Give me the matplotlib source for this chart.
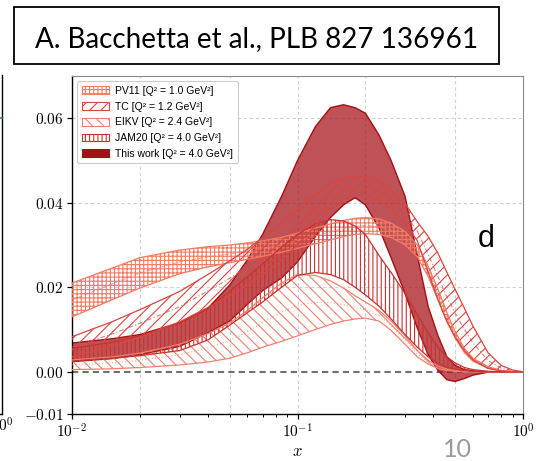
import matplotlib
matplotlib.use("Agg")
import matplotlib.pyplot as plt
from matplotlib.patches import Patch, Rectangle
from matplotlib.lines import Line2D
from matplotlib.ticker import FixedLocator, FuncFormatter, LogLocator, NullFormatter
import numpy as np

plt.rcParams["mathtext.fontset"] = "cm"
plt.rcParams["hatch.linewidth"] = 0.8

# x grid shared by all bands
x = [0.01, 0.015, 0.02, 0.03, 0.04, 0.05, 0.06, 0.07, 0.085, 0.1, 0.12, 0.14,
     0.16, 0.18, 0.2, 0.23, 0.26, 0.3, 0.34, 0.38, 0.42, 0.46, 0.5, 0.55, 0.6,
     0.7, 0.8, 0.9, 1.0]

# PV11 [Q^2 = 1.0 GeV^2]
pv11_lo = [0.0130, 0.0170, 0.0198, 0.0232, 0.0248, 0.0258, 0.0266, 0.0273, 0.0283,
           0.0292, 0.0303, 0.0312, 0.0320, 0.0325, 0.0327, 0.0325, 0.0318, 0.0300,
           0.0272, 0.0225, 0.0170, 0.0120, 0.0080, 0.0045, 0.0025, 0.0008, 0.0002,
           0.0, 0.0]
pv11_hi = [0.0210, 0.0245, 0.0270, 0.0288, 0.0296, 0.0300, 0.0305, 0.0310, 0.0318,
           0.0328, 0.0340, 0.0350, 0.0358, 0.0363, 0.0365, 0.0362, 0.0352, 0.0332,
           0.0300, 0.0250, 0.0195, 0.0140, 0.0095, 0.0055, 0.0032, 0.0012, 0.0003,
           0.0, 0.0]

# TC [Q^2 = 1.2 GeV^2]
tc_lo = [0.0035, 0.0060, 0.0082, 0.0118, 0.0152, 0.0180, 0.0205, 0.0230, 0.0265,
         0.0300, 0.0345, 0.0385, 0.0408, 0.0418, 0.0418, 0.0405, 0.0385, 0.0350,
         0.0310, 0.0235, 0.0170, 0.0118, 0.0082, 0.0050, 0.0028, 0.0008, 0.0002,
         0.0, 0.0]
tc_hi = [0.0083, 0.0118, 0.0147, 0.0190, 0.0230, 0.0262, 0.0290, 0.0318, 0.0352,
         0.0385, 0.0420, 0.0445, 0.0458, 0.0463, 0.0462, 0.0452, 0.0430, 0.0398,
         0.0355, 0.0320, 0.0280, 0.0235, 0.0195, 0.0150, 0.0108, 0.0045, 0.0015,
         0.0004, 0.0]

# EIKV [Q^2 = 2.4 GeV^2]
eikv_lo = [0.0005, 0.0007, 0.0010, 0.0016, 0.0023, 0.0032, 0.0045, 0.0058, 0.0072,
           0.0085, 0.0100, 0.0112, 0.0120, 0.0125, 0.0127, 0.0120, 0.0098, 0.0065,
           0.0035, 0.0018, 0.0008, 0.0003, 0.0001, 0.0, 0.0, 0.0, 0.0, 0.0, 0.0]
eikv_hi = [0.0028, 0.0035, 0.0044, 0.0065, 0.0090, 0.0115, 0.0145, 0.0175, 0.0210,
           0.0230, 0.0228, 0.0215, 0.0198, 0.0180, 0.0165, 0.0145, 0.0120, 0.0085,
           0.0050, 0.0027, 0.0013, 0.0006, 0.0003, 0.0, 0.0, 0.0, 0.0, 0.0, 0.0]

# JAM20 [Q^2 = 4.0 GeV^2]
jam_lo = [0.0025, 0.0032, 0.0038, 0.0050, 0.0075, 0.0110, 0.0140, 0.0165, 0.0200,
          0.0228, 0.0235, 0.0230, 0.0218, 0.0200, 0.0182, 0.0155, 0.0125, 0.0088,
          0.0058, 0.0035, 0.0020, 0.0011, 0.0006, 0.0003, 0.0001, 0.0, 0.0, 0.0, 0.0]
jam_hi = [0.0055, 0.0070, 0.0085, 0.0115, 0.0150, 0.0190, 0.0225, 0.0255, 0.0295,
          0.0325, 0.0350, 0.0360, 0.0357, 0.0345, 0.0325, 0.0275, 0.0235, 0.0185,
          0.0135, 0.0092, 0.0058, 0.0035, 0.0021, 0.0010, 0.0005, 0.0001, 0.0, 0.0, 0.0]

# This work [Q^2 = 4.0 GeV^2]
tw_lo = [0.0024, 0.0031, 0.0040, 0.0060, 0.0092, 0.0120, 0.0160, 0.0192, 0.0222,
         0.0260, 0.0320, 0.0365, 0.0395, 0.0412, 0.0395, 0.0340, 0.0270, 0.0185,
         0.0103, 0.0040, 0.0003, -0.0019, -0.0023, -0.0016, -0.0008, -0.0001, 0.0,
         0.0, 0.0]
tw_hi = [0.0068, 0.0078, 0.0088, 0.0116, 0.0150, 0.0205, 0.0265, 0.0325, 0.0415,
         0.0500, 0.0580, 0.0625, 0.0632, 0.0625, 0.0612, 0.0560, 0.0500, 0.0415,
         0.0275, 0.0154, 0.0085, 0.0035, 0.0015, 0.0005, 0.0002, 0.0, 0.0, 0.0, 0.0]

labels = ["PV11 [Q² = 1.0 GeV²]", "TC [Q² = 1.2 GeV²]", "EIKV [Q² = 2.4 GeV²]",
          "JAM20 [Q² = 4.0 GeV²]", "This work [Q² = 4.0 GeV²]"]

y_ticks = [-0.01, 0.0, 0.02, 0.04, 0.06]
x_ticks = [0.01, 0.1, 1.0]
x_tick_labels = [r"$10^{-2}$", r"$10^{-1}$", r"$10^{0}$"]
x_grid = [0.02, 0.05, 0.1, 0.2, 0.5]
y_grid = [0.02, 0.04, 0.06]

W, H = 542, 461
fig = plt.figure(figsize=(W / 100, H / 100), dpi=100)


def fx(p):
    return p / W


def fy(p):
    return 1 - p / H


ax = fig.add_axes([fx(72), fy(414), fx(523) - fx(72), fy(76) - fy(414)])
ax.set_xscale("log")
ax.set_xlim(0.01, 1.0)
ax.set_ylim(-0.01, 0.07)

for g in x_grid:
    ax.axvline(g, color="#d0d0d0", lw=0.8, ls=(0, (3, 2.5)), zorder=0)
for g in y_grid:
    ax.axhline(g, color="#d0d0d0", lw=0.8, ls=(0, (3, 2.5)), zorder=0)
ax.axhline(0.0, color="#707070", lw=1.5, ls=(0, (3, 2)), zorder=1)

c_pv = "#f47a62"
c_tc = "#da4640"
c_ei = "#f0806e"
c_jam = "#c8322f"
c_tw = "#a50f15"

# This work: solid filled band
ax.fill_between(x, tw_lo, tw_hi, facecolor=c_tw, alpha=0.72, edgecolor="none", zorder=2)
ax.plot(x, tw_lo, color=c_tw, lw=1.0, zorder=2.1)
ax.plot(x, tw_hi, color=c_tw, lw=1.0, zorder=2.1)

# literature extractions: hatched bands with central curves
bands = [
    (pv11_lo, pv11_hi, c_pv, "++++", (0, (4, 2))),
    (eikv_lo, eikv_hi, c_ei, "\\\\\\", (0, (1, 2))),
    (jam_lo, jam_hi, c_jam, "||||", None),
    (tc_lo, tc_hi, c_tc, "///", (0, (4, 2, 1, 2))),
]
for lo, hi, col, hatch, cls in bands:
    ax.fill_between(x, lo, hi, facecolor="none", edgecolor=col, hatch=hatch,
                    linewidth=0.0, zorder=3)
    ax.plot(x, lo, color=col, lw=0.9, zorder=3.2)
    ax.plot(x, hi, color=col, lw=0.9, zorder=3.2)
    if cls is not None:
        mid = [(a + b) / 2 for a, b in zip(lo, hi)]
        ax.plot(x, mid, color=col, lw=0.8, ls=cls, alpha=0.7, zorder=3.1)

# axes styling
for s in ["left", "bottom"]:
    ax.spines[s].set_color("black")
    ax.spines[s].set_linewidth(1.0)
for s in ["top", "right"]:
    ax.spines[s].set_color("#8a8a8a")
    ax.spines[s].set_linewidth(0.8)

ax.xaxis.set_major_locator(FixedLocator(x_ticks))
ax.set_xticklabels(x_tick_labels)
ax.xaxis.set_minor_locator(LogLocator(base=10, subs=np.arange(2, 10)))
ax.xaxis.set_minor_formatter(NullFormatter())
ax.yaxis.set_major_locator(FixedLocator(y_ticks))
ax.yaxis.set_major_formatter(FuncFormatter(lambda v, p: f"${v:.2f}$"))
ax.tick_params(axis="both", which="major", direction="out", length=3.5, width=0.9,
               labelsize=11, pad=2.5, colors="black")
ax.tick_params(axis="x", which="minor", direction="out", length=2.0, width=0.7)
ax.set_xlabel(r"$x$", fontsize=12, labelpad=1)

handles = [
    Patch(facecolor="white", edgecolor=c_pv, hatch="++++", lw=0.8),
    Patch(facecolor="white", edgecolor=c_tc, hatch="///", lw=0.8),
    Patch(facecolor="white", edgecolor=c_ei, hatch="\\\\\\", lw=0.8),
    Patch(facecolor="white", edgecolor=c_jam, hatch="||||", lw=0.8),
    Patch(facecolor=c_tw, edgecolor=c_tw, lw=0.8),
]
leg = ax.legend(handles, labels, loc="upper left",
                prop={"family": "Liberation Sans", "size": 7.5},
                handlelength=2.6, handleheight=0.75, labelspacing=0.55, borderpad=0.45,
                handletextpad=0.6, borderaxespad=0.5, fancybox=True, framealpha=1.0,
                edgecolor="#cccccc")
leg.get_frame().set_linewidth(0.8)
leg.set_zorder(10)

# panel letter
fig.text(fx(486), fy(247), "d", fontsize=22, family="Liberation Sans",
         ha="center", va="baseline")

# title box
fig.add_artist(Rectangle((fx(14), fy(64)), fx(499) - fx(14), fy(7) - fy(64),
                         transform=fig.transFigure, facecolor="white", edgecolor="black",
                         lw=1.3))
title = fig.text(fx(257), fy(47), "A. Bacchetta et al., PLB 827 136961", fontsize=20,
                 family="Lato", ha="center", va="baseline")
fig.canvas.draw()
w = title.get_window_extent().width
title.set_fontsize(20 * 444 / w)

# slide number
fig.text(fx(457), fy(449), "10", fontsize=18, family="Lato", color="#9a9a9a",
         ha="center", va="center")

# fragment of the neighbouring panel at the left edge
fig.add_artist(Line2D([fx(2), fx(2)], [fy(414), fy(75)], transform=fig.transFigure,
                      color="black", lw=1.0))
fig.add_artist(Line2D([fx(0), fx(2)], [fy(414), fy(414)], transform=fig.transFigure,
                      color="black", lw=1.0))
fig.add_artist(Line2D([fx(0), fx(1.5)], [fy(118), fy(118)], transform=fig.transFigure,
                      color="#2a8a3a", lw=1.2))
fig.text(fx(2), fy(417), r"$10^{0}$", fontsize=11, ha="center", va="top")

fig.savefig("out.png", dpi=100)
